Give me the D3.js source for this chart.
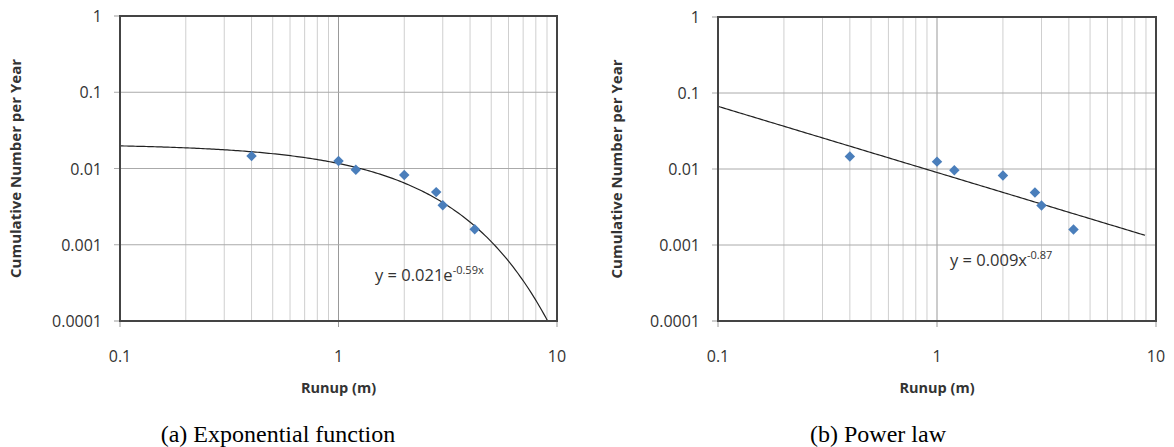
<!DOCTYPE html>
<html>
<head>
<meta charset="utf-8">
<script src="https://cdn.jsdelivr.net/npm/d3@7"></script>
<style>
  body { margin: 0; background: #fff; }
  svg { display: block; }
  text { font-family: "Open Sans", Lato, sans-serif; fill: #333; }
  .caption { font-family: "Liberation Serif", "DejaVu Serif", serif; fill: #000; }
</style>
</head>
<body>
<script>
'use strict';

// observed runup data (same points in both panels)
var runup = [0.4, 1.0, 1.2, 2.0, 2.8, 3.0, 4.2];
var cumPerYear = [0.0146, 0.0125, 0.0096, 0.0082, 0.0049, 0.0033, 0.0016];

// fitted curves
var expFit = { a: 0.021, b: -0.59 };
var powFit = { a: 0.009, b: -0.87 };

var xTicks = [0.1, 1, 10];
var xTickLabels = ['0.1', '1', '10'];
var yTicks = [0.0001, 0.001, 0.01, 0.1, 1];
var yTickLabels = ['0.0001', '0.001', '0.01', '0.1', '1'];

var W = 1174, H = 447;
var svg = d3.select('body').append('svg')
  .attr('width', W)
  .attr('height', H);

function panel(opt) {
  var x = d3.scaleLog().domain([0.1, 10]).range([opt.left, opt.right]);
  var y = d3.scaleLog().domain([0.0001, 1]).range([opt.bottom, opt.top]);
  var g = svg.append('g');

  // minor vertical grid
  var minor = [];
  [0.1, 1].forEach(function(dec) {
    for (var k = 2; k <= 9; k++) minor.push(dec * k);
  });
  g.selectAll('.minor').data(minor).enter().append('line')
    .attr('x1', function(d) { return x(d); })
    .attr('x2', function(d) { return x(d); })
    .attr('y1', opt.top).attr('y2', opt.bottom)
    .attr('stroke', '#cfcfcf').attr('stroke-width', 1);

  // major grid
  g.append('line')
    .attr('x1', x(1)).attr('x2', x(1))
    .attr('y1', opt.top).attr('y2', opt.bottom + 6)
    .attr('stroke', '#999').attr('stroke-width', 1);
  g.selectAll('.hmaj').data(yTicks.slice(1, 4)).enter().append('line')
    .attr('x1', opt.left - 6).attr('x2', opt.right)
    .attr('y1', function(d) { return y(d); })
    .attr('y2', function(d) { return y(d); })
    .attr('stroke', '#aaa').attr('stroke-width', 1);

  // ticks outside
  [0.1, 10].forEach(function(d) {
    g.append('line').attr('x1', x(d)).attr('x2', x(d))
      .attr('y1', opt.bottom).attr('y2', opt.bottom + 6)
      .attr('stroke', '#999');
  });
  [0.0001, 1].forEach(function(d) {
    g.append('line').attr('x1', opt.left - 6).attr('x2', opt.left)
      .attr('y1', y(d)).attr('y2', y(d))
      .attr('stroke', '#999');
  });

  // fit line
  var xs = d3.range(-1, 1.0001, 0.01).map(function(p) { return Math.pow(10, p); })
    .filter(function(v) { return v <= opt.xEnd; });
  var clipId = 'clip' + opt.id;
  svg.append('clipPath').attr('id', clipId).append('rect')
    .attr('x', opt.left).attr('y', opt.top)
    .attr('width', opt.right - opt.left).attr('height', opt.bottom - opt.top);
  var line = d3.line()
    .x(function(d) { return x(d); })
    .y(function(d) { return y(Math.max(opt.fn(d), 1e-6)); });
  g.append('path').datum(xs)
    .attr('clip-path', 'url(#' + clipId + ')')
    .attr('d', line)
    .attr('fill', 'none')
    .attr('stroke', '#222')
    .attr('stroke-width', 1.2);

  // points
  var sym = d3.symbol().type(d3.symbolDiamond2).size(70);
  g.selectAll('.pt').data(runup).enter().append('path')
    .attr('d', sym)
    .attr('transform', function(d, i) {
      return 'translate(' + x(d) + ',' + y(cumPerYear[i]) + ')';
    })
    .attr('fill', '#4a7ebb');

  // border
  g.append('rect')
    .attr('x', opt.left).attr('y', opt.top)
    .attr('width', opt.right - opt.left).attr('height', opt.bottom - opt.top)
    .attr('fill', 'none').attr('stroke', '#444').attr('stroke-width', 2);

  // tick labels
  g.selectAll('.yl').data(yTicks).enter().append('text')
    .attr('x', opt.left - 18)
    .attr('y', function(d) { return y(d) + 6; })
    .attr('text-anchor', 'end')
    .style('font-size', '16px')
    .text(function(d, i) { return yTickLabels[i]; });
  g.selectAll('.xl').data(xTicks).enter().append('text')
    .attr('x', function(d) { return x(d); })
    .attr('y', opt.bottom + 41)
    .attr('text-anchor', 'middle')
    .style('font-size', '16px')
    .text(function(d, i) { return xTickLabels[i]; });

  // axis titles
  g.append('text')
    .attr('x', x(1)).attr('y', opt.bottom + 72)
    .attr('text-anchor', 'middle')
    .style('font-size', '14.5px').style('font-weight', 'bold')
    .text('Runup (m)');
  g.append('text')
    .attr('transform', 'translate(' + opt.ytitleX + ',' + ((opt.top + opt.bottom) / 2) + ') rotate(-90)')
    .attr('text-anchor', 'middle')
    .style('font-size', '15px').style('font-weight', 'bold')
    .text('Cumulative Number per Year');

  // equation
  var eq = g.append('text')
    .attr('x', opt.eqX).attr('y', opt.eqY)
    .style('font-size', '16.5px');
  eq.append('tspan').text(opt.eqMain);
  eq.append('tspan').attr('dy', -7).style('font-size', '11px').text(opt.eqSup);

  // caption
  svg.append('text').attr('class', 'caption')
    .attr('x', opt.capX).attr('y', 442)
    .attr('text-anchor', 'middle')
    .style('font-size', '24px')
    .text(opt.caption);
}

panel({
  id: 'a', left: 120, right: 557, top: 16, bottom: 321, ytitleX: 21,
  xEnd: 9.2,
  fn: function(v) { return expFit.a * Math.exp(expFit.b * v); },
  eqX: 375, eqY: 281, eqMain: 'y = 0.021e', eqSup: '-0.59x',
  capX: 278, caption: '(a) Exponential function'
});

panel({
  id: 'b', left: 718, right: 1156, top: 17, bottom: 321, ytitleX: 622,
  xEnd: 9.1,
  fn: function(v) { return powFit.a * Math.pow(v, powFit.b); },
  eqX: 950, eqY: 266, eqMain: 'y = 0.009x', eqSup: '-0.87',
  capX: 878, caption: '(b) Power law'
});
</script>
</body>
</html>
